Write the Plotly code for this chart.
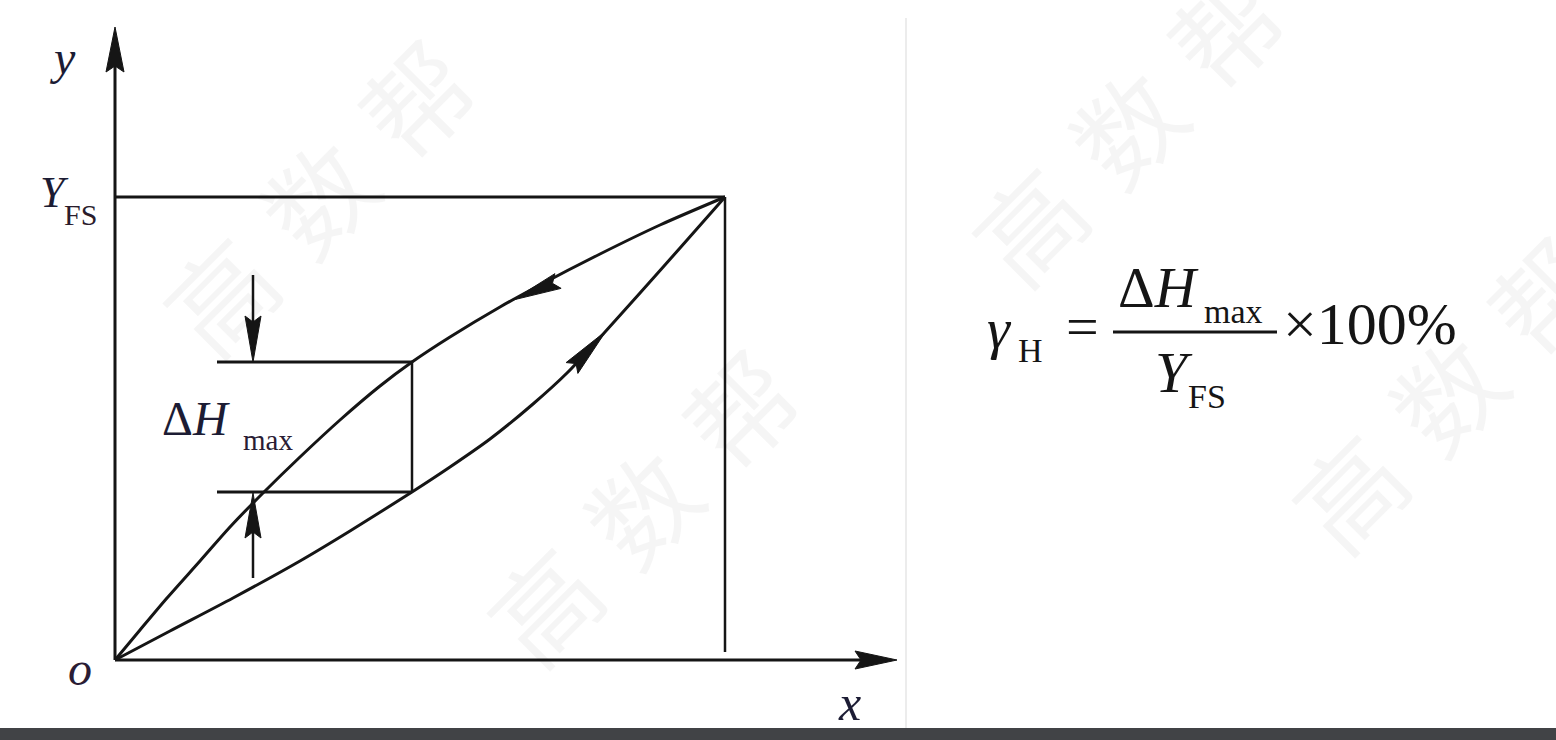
import plotly.graph_objects as go
import numpy as np

W, H = 1556, 740

# ---- diagram data (pixel space of the figure) ----
origin = (115, 660)
y_axis_tip = (115, 27)
x_axis_tip = (897, 660)
y_fs_level = 197
x_fs = 725
vert_bottom = 652

# unloading (upper) branch
upper_x = [115, 140, 167, 200, 230, 263, 300, 340, 380, 412, 450, 500, 540, 600, 660, 725]
upper_y = [660, 630, 598, 561, 527, 493, 457, 420, 386, 362, 337, 307, 285, 254, 225, 197]
# loading (lower) branch
lower_x = [115, 170, 233, 300, 350, 412, 450, 490, 533, 567, 605, 640, 680, 725]
lower_y = [660, 631, 598, 561, 531, 492, 467, 439, 404, 373, 332, 293, 248, 197]

# Delta H max construction
dh_top, dh_bot = 362, 492
dh_left, dh_right = 217, 412
dh_arrow_x = 253
dh_top_start, dh_bot_start = 275, 578

# arrowheads: (tip, base centre, half width)
arrowheads = [
    ((115, 27), (115, 72), 9),
    ((897, 660), (855, 660), 9),
    ((253, 362), (253, 316), 8),
    ((253, 493), (253, 538), 8),
    ((513, 300), (558, 281), 8),
    ((606, 331), (572, 368), 8),
]

# watermark: characters and the centre of each repeated stamp
wm_chars = ["高", "数", "帮"]
wm_centres = [(316, 195), (640, 505), (1125, 125), (1445, 392), (985, 860)]
wm_step = 98  # offset between successive characters along the 45° diagonal

INK = "#151515"
SERIF = "Liberation Serif, Times New Roman, serif"

fig = go.Figure()

def line(xs, ys, w=3, shape="linear"):
    fig.add_trace(go.Scatter(x=xs, y=ys, mode="lines",
                             line=dict(color=INK, width=w, shape=shape, smoothing=0.8),
                             hoverinfo="skip", showlegend=False))

# axes
line([origin[0], y_axis_tip[0]], [origin[1], y_axis_tip[1] + 20], 3)
line([origin[0], x_axis_tip[0] - 20], [origin[1], x_axis_tip[1]], 3)
# Y_FS level and vertical
line([origin[0], x_fs], [y_fs_level, y_fs_level], 3)
line([x_fs, x_fs], [y_fs_level, vert_bottom], 2.5)
# curves
line(upper_x, upper_y, 3, "spline")
line(lower_x, lower_y, 3, "spline")
# Delta H construction
line([dh_left, dh_right], [dh_top, dh_top], 3)
line([dh_left, dh_right], [dh_bot, dh_bot], 3)
line([dh_right, dh_right], [dh_top, dh_bot], 2.5)
line([dh_arrow_x, dh_arrow_x], [dh_top_start, dh_top - 20], 2.5)
line([dh_arrow_x, dh_arrow_x], [dh_bot_start, dh_bot + 20], 2.5)

# arrowheads
for tip, base, hw in arrowheads:
    t = np.array(tip, float); b = np.array(base, float)
    d = t - b; d /= np.linalg.norm(d)
    n = np.array([-d[1], d[0]])
    p1 = b + n * hw; p2 = b - n * hw
    inner = b + d * 6
    xs = [t[0], p1[0], inner[0], p2[0], t[0]]
    ys = [t[1], p1[1], inner[1], p2[1], t[1]]
    fig.add_trace(go.Scatter(x=xs, y=ys, mode="lines", fill="toself",
                             fillcolor=INK, line=dict(color=INK, width=1),
                             hoverinfo="skip", showlegend=False))

ann = []
def txt(x, y, s, size, anchor="left", color=INK):
    ann.append(dict(x=x, y=y, xref="x", yref="y", text=s, showarrow=False,
                    xanchor=anchor, yanchor="middle",
                    font=dict(family=SERIF, size=size, color=color)))

# diagram labels
txt(62, 57, "<i>y</i>", 48, "center", "#1c1c34")
txt(38, 192, "<i>Y</i>", 44, "left", "#1c1c34")
txt(62, 214, "FS", 30, "left", "#2a1c2c")
txt(80, 668, "<i>o</i>", 48, "center", "#2a1c34")
txt(849, 703, "<i>x</i>", 50, "center", "#1c1c34")
txt(160, 418, "Δ<i>H</i>", 48, "left", "#1c1c34")
txt(241, 440, "max", 29, "left", "#2a1c34")

# formula
txt(985, 328, "<i>γ</i>", 58, "left")
txt(1016, 350, "H", 34, "left")
txt(1082, 326, "=", 58, "center")
txt(1116, 287, "Δ<i>H</i>", 57, "left")
txt(1202, 311, "max", 34, "left")
txt(1153, 372, "<i>Y</i>", 58, "left")
txt(1186, 396, "FS", 34, "left")
txt(1281, 324, "×100%", 60, "left")

# watermark (each glyph rotated)
for cx, cy in wm_centres:
    for k, ch in enumerate(wm_chars):
        off = (k - 1) * wm_step
        ann.append(dict(x=cx + off, y=cy - off, xref="x", yref="y", text=ch,
                        showarrow=False, textangle=-45,
                        xanchor="center", yanchor="middle",
                        font=dict(family="Noto Sans CJK SC", size=106,
                                  color="rgba(0,0,0,0.04)")))

shapes = [
    dict(type="line", xref="x", yref="y", x0=906, x1=906, y0=18, y1=728,
         line=dict(color="#e6e6e6", width=1.5)),
    dict(type="line", xref="x", yref="y", x0=1113, x1=1277, y0=332, y1=332,
         line=dict(color=INK, width=3)),
    dict(type="rect", xref="x", yref="y", x0=0, x1=W, y0=728, y1=740,
         fillcolor="#414346", line=dict(width=0), layer="above"),
]

fig.update_layout(
    width=W, height=H, margin=dict(l=0, r=0, t=0, b=0),
    paper_bgcolor="white", plot_bgcolor="white",
    xaxis=dict(range=[0, W], visible=False, fixedrange=True),
    yaxis=dict(range=[H, 0], visible=False, fixedrange=True),
    annotations=ann, shapes=shapes, showlegend=False,
)

fig.write_html("out.html", config={"displayModeBar": False},
               post_script="document.body.style.margin='0';document.body.style.overflow='hidden';")
